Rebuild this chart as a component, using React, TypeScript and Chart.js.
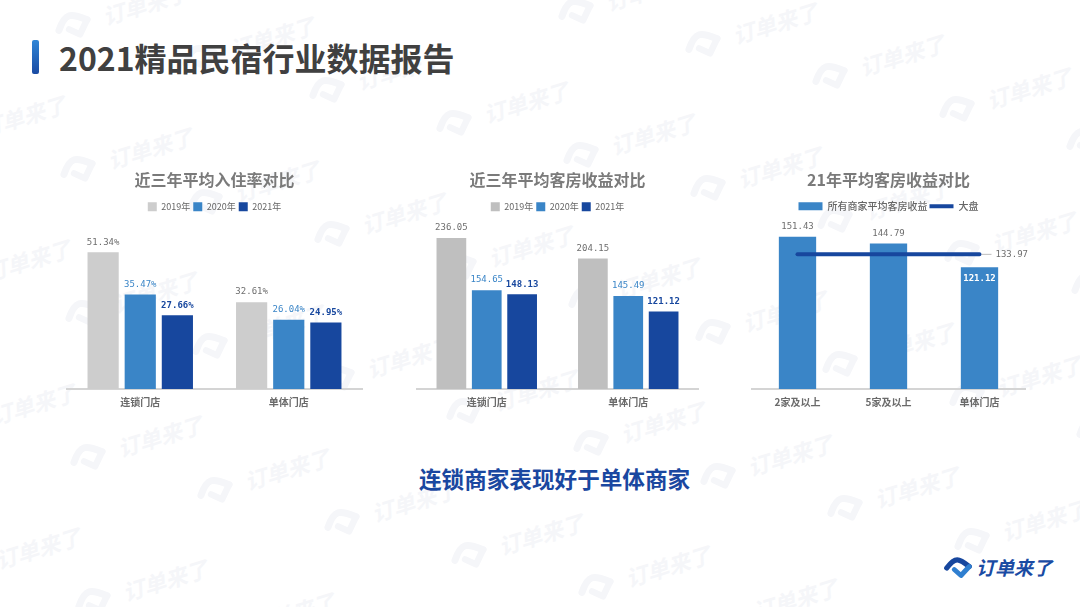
import { useEffect, useRef } from "react";
import { Chart, ChartConfiguration, Plugin, registerables } from "chart.js";

Chart.register(...registerables);

const PAGE_TITLE = "2021精品民宿行业数据报告";
const CONCLUSION = "连锁商家表现好于单体商家";
const BRAND = "订单来了";

const years = ["2019年", "2020年", "2021年"];
const storeTypes = ["连锁门店", "单体门店"];

const occupancyTitle = "近三年平均入住率对比";
const occupancy2019 = [51.34, 32.61];
const occupancy2020 = [35.47, 26.04];
const occupancy2021 = [27.66, 24.95];

const revenueTitle = "近三年平均客房收益对比";
const revenue2019 = [236.05, 204.15];
const revenue2020 = [154.65, 145.49];
const revenue2021 = [148.13, 121.12];

const tierTitle = "21年平均客房收益对比";
const tierLabels = ["2家及以上", "5家及以上", "单体门店"];
const tierRevenue = [151.43, 144.79, 121.12];
const marketRevenue = [133.97, 133.97, 133.97];

const LIGHT_GREY = "#cdcdcd";
const DARK_GREY = "#bfbfbf";
const BLUE = "#3a85c7";
const NAVY = "#17479e";
const CJK = '"Noto Sans CJK SC"';

// value labels, drawn from each bar's own position
const valueLabels: Plugin = {
  id: "valueLabels",
  afterDatasetsDraw(chart) {
    const ctx = chart.ctx;
    chart.data.datasets.forEach((ds: any, i) => {
      if (!ds.labelColor) return;
      chart.getDatasetMeta(i).data.forEach((el: any, j) => {
        const value = ds.data[j] as number;
        const text = value.toFixed(2) + (ds.suffix || "");
        ctx.save();
        ctx.font = `${ds.labelBold ? "bold " : ""}9px "DejaVu Sans Mono"`;
        ctx.textAlign = "center";
        ctx.textBaseline = "middle";
        ctx.fillStyle = ds.labelColor;
        if (ds.type === "line") {
          // only the last point carries a label, with a small leader line
          if (j === ds.data.length - 1) {
            ctx.strokeStyle = "#bdbdbd";
            ctx.beginPath();
            ctx.moveTo(el.x + 2, el.y);
            ctx.lineTo(el.x + 12, el.y);
            ctx.stroke();
            ctx.textAlign = "left";
            ctx.fillText(text, el.x + 16, el.y);
          }
        } else if (ds.insideLast && j === ds.data.length - 1) {
          ctx.font = 'bold 9px "DejaVu Sans Mono"';
          ctx.fillStyle = "#ffffff";
          ctx.fillText(text, el.x, el.y + 11);
        } else {
          ctx.fillText(text, el.x, el.y - 10);
        }
        ctx.restore();
      });
    });
  },
};

// leaves room under the legend so the plot starts lower
const legendGap: Plugin = {
  id: "legendGap",
  beforeInit(chart: any) {
    const fit = chart.legend.fit;
    chart.legend.fit = function () {
      fit.call(this);
      this.height += 8;
    };
  },
};

function baseOptions(title: string, yMax: number, sidePad: number, boxed: boolean): any {
  return {
    responsive: false,
    animation: false,
    layout: { padding: { left: sidePad, right: sidePad, top: 0, bottom: 0 } },
    plugins: {
      tooltip: { enabled: false },
      title: {
        display: true,
        text: title,
        color: "#7a7a7a",
        font: { family: CJK, size: 16, weight: "bold" },
        padding: { top: 2, bottom: 10 },
      },
      legend: {
        position: "top",
        labels: boxed
          ? {
              color: "#666666",
              font: { family: CJK, size: 9 },
              boxWidth: 9,
              boxHeight: 9,
              padding: 3,
            }
          : {
              color: "#666666",
              font: { family: CJK, size: 10, weight: "500" },
              usePointStyle: true,
              pointStyleWidth: 24,
              boxHeight: 8,
              padding: 2,
              sort: (a: any, b: any) => b.datasetIndex - a.datasetIndex,
            },
      },
    },
    scales: {
      x: {
        grid: { display: false, drawTicks: false },
        border: { color: "#d4d4d4", width: 2 },
        ticks: {
          color: "#6a6a6a",
          padding: 7,
          font: { family: CJK, size: 10, weight: "bold" },
          maxRotation: 0,
        },
      },
      y: { display: false, min: 0, max: yMax },
    },
  };
}

function groupedConfig(title: string, yMax: number, a: number[], b: number[], c: number[], suffix: string, grey: string): ChartConfiguration {
  const shared = { categoryPercentage: 0.75, barPercentage: 0.84, suffix };
  return {
    type: "bar",
    data: {
      labels: storeTypes,
      datasets: [
        { label: years[0], data: a, backgroundColor: grey, labelColor: "#6e6e6e", ...shared },
        { label: years[1], data: b, backgroundColor: BLUE, labelColor: BLUE, ...shared },
        { label: years[2], data: c, backgroundColor: NAVY, labelColor: NAVY, labelBold: true, ...shared },
      ] as any,
    },
    options: baseOptions(title, yMax, 0, true),
    plugins: [valueLabels, legendGap],
  };
}

const tierConfig: ChartConfiguration = {
  type: "bar",
  data: {
    labels: tierLabels,
    datasets: [
      {
        type: "line",
        label: "大盘",
        data: marketRevenue,
        borderColor: NAVY,
        backgroundColor: NAVY,
        borderWidth: 4,
        borderCapStyle: "round",
        pointRadius: 0,
        pointStyle: "line",
        order: 0,
        labelColor: "#6e6e6e",
      },
      {
        type: "bar",
        label: "所有商家平均客房收益",
        data: tierRevenue,
        backgroundColor: BLUE,
        categoryPercentage: 1,
        barPercentage: 0.41,
        pointStyle: "rect",
        order: 1,
        labelColor: "#6e6e6e",
        insideLast: true,
      },
    ] as any,
  },
  options: baseOptions(tierTitle, 159, 10, false),
  plugins: [valueLabels, legendGap],
};

const occupancyConfig = groupedConfig(occupancyTitle, 60, occupancy2019, occupancy2020, occupancy2021, "%", LIGHT_GREY);
const revenueConfig = groupedConfig(revenueTitle, 250, revenue2019, revenue2020, revenue2021, "", DARK_GREY);

function ChartCanvas({ config, left, top, width, height }: { config: ChartConfiguration; left: number; top: number; width: number; height: number }) {
  const ref = useRef<HTMLCanvasElement>(null);

  useEffect(() => {
    if (!ref.current) return;
    const chart = new Chart(ref.current, config);
    return () => chart.destroy();
  }, [config]);

  return <canvas ref={ref} width={width} height={height} style={{ position: "absolute", left, top, width, height }} />;
}

function LogoMark({ size, first, second }: { size: number; first: string; second: string }) {
  return (
    <svg width={size} height={size * 0.75} viewBox="0 0 40 30" style={{ display: "block" }}>
      <path d="M5 16 Q13 5 19 5 Q24 5 35 14" fill="none" stroke={first} strokeWidth={7} strokeLinecap="round" strokeLinejoin="round" />
      <path d="M35 14 L24 26 L15 18" fill="none" stroke={second} strokeWidth={6.5} strokeLinecap="round" strokeLinejoin="round" />
    </svg>
  );
}

// background watermark, tiled along two tilted directions
function Watermark() {
  const stamps: { x: number; y: number }[] = [];
  for (let row = -4; row < 3; row++) {
    for (let col = -3; col < 11; col++) {
      stamps.push({ x: 88 + col * 127 + row * 5, y: 457 + col * 32.5 + row * 144 });
    }
  }
  return (
    <>
      {stamps.map((s, i) => (
        <div key={i} style={{ position: "absolute", left: s.x, top: s.y, width: 0, height: 0, transform: "rotate(-17deg)", transformOrigin: "0 0" }}>
          <div style={{ position: "absolute", left: -20, top: -15 }}>
            <LogoMark size={40} first="#f5f6f9" second="#f5f6f9" />
          </div>
          <div
            style={{
              position: "absolute",
              left: 31,
              top: -16,
              lineHeight: "32px",
              color: "#f5f6f9",
              fontFamily: CJK,
              fontSize: 22,
              fontStyle: "italic",
              fontWeight: 700,
              whiteSpace: "nowrap",
            }}
          >
            {BRAND}
          </div>
        </div>
      ))}
    </>
  );
}

export default function App() {
  return (
    <div style={{ position: "fixed", left: 0, top: 0, width: 1080, height: 607, overflow: "hidden", background: "#ffffff", fontFamily: CJK }}>
      <Watermark />
      <div style={{ position: "absolute", left: 32, top: 40, width: 7, height: 34, borderRadius: 2, background: "linear-gradient(#2f86d6, #1a4ba3)" }} />
      <div style={{ position: "absolute", left: 59, top: 35, fontSize: 32, lineHeight: "44px", fontWeight: 700, color: "#404040", whiteSpace: "nowrap" }}>{PAGE_TITLE}</div>
      <ChartCanvas config={occupancyConfig} left={66} top={168} width={297} height={247} />
      <ChartCanvas config={revenueConfig} left={416} top={168} width={283} height={247} />
      <ChartCanvas config={tierConfig} left={742} top={168} width={293} height={247} />
      <div style={{ position: "absolute", left: 419, top: 463, fontSize: 22.6, lineHeight: "32px", fontWeight: 700, color: "#1a47a0", whiteSpace: "nowrap" }}>{CONCLUSION}</div>
      <div style={{ position: "absolute", left: 943, top: 556 }}>
        <LogoMark size={30} first="#17479e" second="#2f7fd0" />
      </div>
      <div style={{ position: "absolute", left: 976, top: 553, fontSize: 19, lineHeight: "28px", fontWeight: 700, fontStyle: "italic", color: "#1a4ba3", whiteSpace: "nowrap" }}>{BRAND}</div>
    </div>
  );
}
